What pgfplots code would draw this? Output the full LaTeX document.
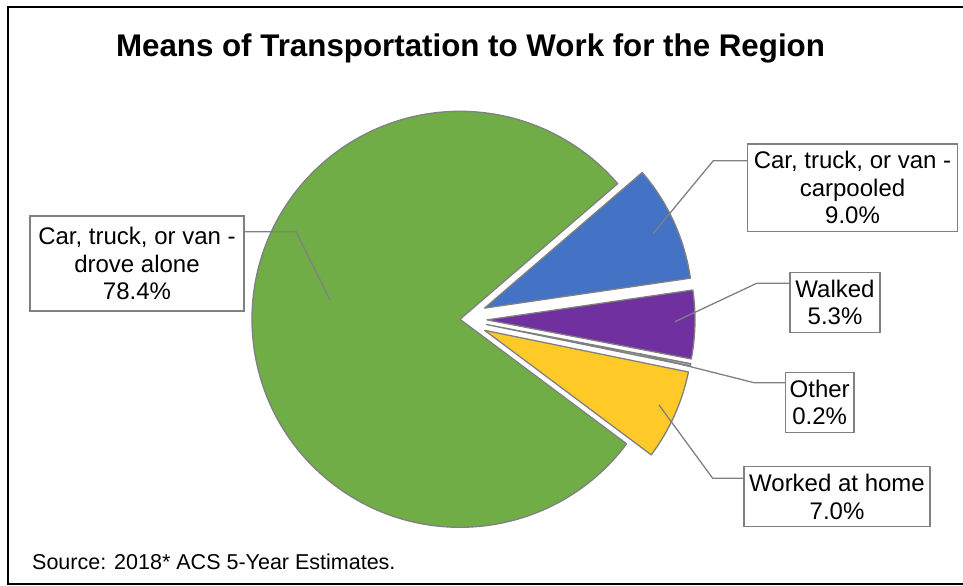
\documentclass[border=0pt]{standalone}
\usepackage{fontspec}
\setmainfont{Liberation Sans}
\usepackage{pgfplots}
\usepackage{pgfplotstable}
\pgfplotsset{compat=1.18}
\definecolor{slice0}{HTML}{4472C4}
\definecolor{slice1}{HTML}{7030A0}
\definecolor{slice2}{HTML}{A5A5A5}
\definecolor{slice3}{HTML}{FFCA28}
\definecolor{slice4}{HTML}{70AD47}
\definecolor{pieline}{HTML}{808080}
\newcommand\lab{\fontsize{24bp}{27.5bp}\selectfont}

% share of workers (percent), drawn clockwise from the start angle
\pgfplotstableread{
label value explode
carpooled 9.0 27
walked 5.3 27
other 0.2 27
home 7.0 27
alone 78.4 0
}\piedata

\begin{document}
\begin{tikzpicture}
\gdef\pietotal{0}
\foreach \i in {0,...,4}{%
  \pgfplotstablegetelem{\i}{value}\of\piedata
  \pgfmathsetmacro\tmpt{\pietotal+\pgfplotsretval}%
  \xdef\pietotal{\tmpt}}
\gdef\piecur{40.7}
\foreach \i in {0,...,4}{%
  \pgfplotstablegetelem{\i}{value}\of\piedata
  \let\pv\pgfplotsretval
  \pgfplotstablegetelem{\i}{explode}\of\piedata
  \let\pe\pgfplotsretval
  \pgfmathsetmacro\pa{\piecur}%
  \pgfmathsetmacro\pfrac{\pv/\pietotal}%
  \pgfmathsetmacro\pb{\piecur-360*\pfrac}%
  \pgfmathsetmacro\pmid{(\pa+\pb)/2}%
  \pgfmathsetmacro\ppx{460+\pe*cos(\pmid)}%
  \pgfmathsetmacro\ppy{266.7+\pe*sin(\pmid)}%
  \pgfmathsetmacro\pqx{\ppx+208*cos(\pa)}%
  \pgfmathsetmacro\pqy{\ppy+208*sin(\pa)}%
  \expandafter\xdef\csname pieA\i\endcsname{\pa}%
  \expandafter\xdef\csname pieB\i\endcsname{\pb}%
  \expandafter\xdef\csname piePx\i\endcsname{\ppx}%
  \expandafter\xdef\csname piePy\i\endcsname{\ppy}%
  \expandafter\xdef\csname pieQx\i\endcsname{\pqx}%
  \expandafter\xdef\csname pieQy\i\endcsname{\pqy}%
  \xdef\piecur{\pb}}
\begin{axis}[
  name=pie, x=1bp, y=1bp,
  xmin=0, xmax=963, ymin=0, ymax=586,
  hide axis, clip=false,
]
\pgfplotsinvokeforeach{0,...,4}{%
  \filldraw[fill=slice#1, draw=pieline, line width=1.3bp, line join=round]
    (axis cs:\csname piePx#1\endcsname,\csname piePy#1\endcsname) --
    (axis cs:\csname pieQx#1\endcsname,\csname pieQy#1\endcsname)
    arc[start angle=\csname pieA#1\endcsname, end angle=\csname pieB#1\endcsname, radius=208bp] -- cycle;
}
% leader lines
\draw[pieline, line width=1.3bp] (axis cs:244.3,354.3) -- (axis cs:296,354.3) -- (axis cs:330,286);
\draw[pieline, line width=1.3bp] (axis cs:747.7,425.3) -- (axis cs:713.3,425.3) -- (axis cs:653.3,352.7);
\draw[pieline, line width=1.3bp] (axis cs:790,302.7) -- (axis cs:756.7,302.7) -- (axis cs:675,264.3);
\draw[pieline, line width=1.3bp] (axis cs:785.3,203.3) -- (axis cs:754,203.3) -- (axis cs:638.7,232.4);
\draw[pieline, line width=1.3bp] (axis cs:744,107.7) -- (axis cs:712.7,107.7) -- (axis cs:659,181);
% labels
\node[draw=pieline, fill=white, line width=1.3bp, minimum width=214bp, minimum height=95bp, align=center, inner sep=0pt, font=\lab] at (axis cs:137,322.5) {Car, truck, or van -\\drove alone\\78.4\%};
\node[draw=pieline, fill=white, line width=1.3bp, minimum width=209.6bp, minimum height=87.7bp, align=center, inner sep=0pt, font=\lab] at (axis cs:852.5,398.2) {Car, truck, or van -\\carpooled\\9.0\%};
\node[draw=pieline, fill=white, line width=1.3bp, minimum width=90bp, minimum height=59.6bp, align=center, inner sep=0pt, font=\lab] at (axis cs:835,283.5) {Walked\\5.3\%};
\node[draw=pieline, fill=white, line width=1.3bp, minimum width=68.7bp, minimum height=60.4bp, align=center, inner sep=0pt, font=\lab] at (axis cs:819.7,183.5) {Other\\0.2\%};
\node[draw=pieline, fill=white, line width=1.3bp, minimum width=186bp, minimum height=60bp, align=center, inner sep=0pt, font=\lab] at (axis cs:837,89.3) {Worked at home\\7.0\%};
% title and source
\node[font=\fontsize{31.3bp}{35bp}\selectfont\bfseries] at (axis cs:470.5,537.5) {Means of Transportation to Work for the Region};
\node[font=\fontsize{21.5bp}{25bp}\selectfont, anchor=west, inner sep=0pt] at (axis cs:32,24.3) {Source: 2018* ACS 5-Year Estimates.};
% chart frame
\draw[black, line width=2bp] (axis cs:8.3,1.5) rectangle (axis cs:975,579.3);
\end{axis}
\pgfresetboundingbox
\useasboundingbox (pie.south west) rectangle (pie.north east);
\end{tikzpicture}
\end{document}
